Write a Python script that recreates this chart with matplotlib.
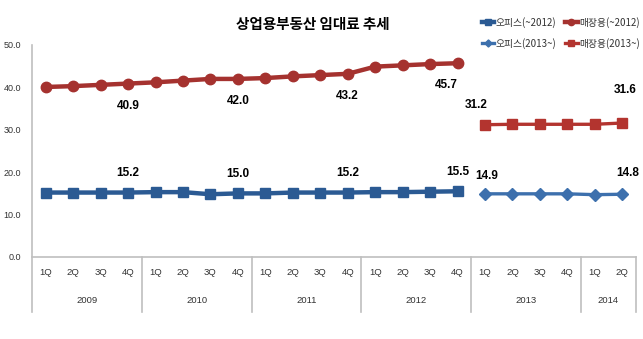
import matplotlib
matplotlib.use("Agg")
import matplotlib.pyplot as plt

plt.rcParams['font.family'] = ['Liberation Sans', 'Noto Sans CJK KR', 'DejaVu Sans']

title = '상업용부동산 임대료 추세'
years = ['2009', '2010', '2011', '2012', '2013', '2014']
year_quarters = [4, 4, 4, 4, 4, 2]
quarters = ['1Q', '2Q', '3Q', '4Q'] * 5 + ['1Q', '2Q']

# ~2012 기준 (2009 1Q ~ 2012 4Q)
office_old = [15.2, 15.2, 15.2, 15.2, 15.3, 15.3, 14.8, 15.0,
              15.0, 15.2, 15.2, 15.2, 15.3, 15.3, 15.4, 15.5]
retail_old = [40.1, 40.3, 40.6, 40.9, 41.2, 41.6, 42.0, 42.0,
              42.2, 42.6, 42.9, 43.2, 44.9, 45.2, 45.5, 45.7]
# 2013~ 기준 (2013 1Q ~ 2014 2Q)
office_new = [14.9, 14.9, 14.9, 14.9, 14.7, 14.8]
retail_new = [31.2, 31.3, 31.3, 31.3, 31.3, 31.6]

c_blue = '#2b5a93'
c_blue2 = '#3d70ad'
c_red = '#a5322f'
c_red2 = '#b3342f'

n_old = len(office_old)
x_old = list(range(n_old))
x_new = list(range(n_old, n_old + len(office_new)))

fig = plt.figure(figsize=(6.43, 3.39), dpi=100)
ax = fig.add_axes([32 / 643, 82 / 339, 604 / 643, 212 / 339])

ax.plot(x_old, office_old, color=c_blue, lw=3.2, marker='s', ms=7, label='오피스(~2012)')
ax.plot(x_old, retail_old, color=c_red, lw=3.2, marker='o', ms=7.5, label='매장용(~2012)')
ax.plot(x_new, office_new, color=c_blue2, lw=2.4, marker='D', ms=6, label='오피스(2013~)')
ax.plot(x_new, retail_new, color=c_red2, lw=2.4, marker='s', ms=7, label='매장용(2013~)')

lab_font = dict(fontsize=8.5, fontweight='bold', ha='center', va='center')

# 분기 말 값 표시
for i in [3, 7, 11, 15]:
    ax.annotate(f'{office_old[i]:.1f}', (x_old[i], office_old[i]),
                xytext=(0, 14), textcoords='offset points', **lab_font)
    dx = -8 if i == 15 else 0
    ax.annotate(f'{retail_old[i]:.1f}', (x_old[i], retail_old[i]),
                xytext=(dx, -16), textcoords='offset points', **lab_font)
for i, dx, dy_o, dy_r in [(0, 1, 13, 14), (5, 4, 15, 24)]:
    ax.annotate(f'{office_new[i]:.1f}', (x_new[i], office_new[i]),
                xytext=(dx, dy_o), textcoords='offset points', **lab_font)
    ax.annotate(f'{retail_new[i]:.1f}', (x_new[i], retail_new[i]),
                xytext=(-6 if i == 0 else 2, dy_r), textcoords='offset points', **lab_font)

ax.set_xlim(-0.5, 21.5)
ax.set_ylim(0, 50)
ax.set_yticks(range(0, 51, 10))
ax.set_yticklabels([f'{v:.1f}' for v in range(0, 51, 10)], fontsize=6.5, color='#333333')
ax.tick_params(axis='y', length=0, pad=8)
ax.set_xticks([])
for s in ['top', 'right', 'left', 'bottom']:
    ax.spines[s].set_visible(False)

grey = '#bfbfbf'
tr = ax.get_xaxis_transform()
# 축선과 연도 구분선
ax.plot([-0.5, 21.5], [0, 0], color=grey, lw=1.2, transform=tr, clip_on=False)
ax.plot([-0.5, -0.5], [-0.26, 1.0], color=grey, lw=1.2, transform=tr, clip_on=False)
pos = -0.5
for yr, nq in zip(years, year_quarters):
    ax.text(pos + nq / 2, -0.205, yr, transform=tr, ha='center', va='center',
            fontsize=6.8, color='#333333')
    pos += nq
    ax.plot([pos, pos], [-0.26, 0], color=grey, lw=1.2, transform=tr, clip_on=False)
for i, q in enumerate(quarters):
    ax.text(i, -0.075, q, transform=tr, ha='center', va='center',
            fontsize=6.8, color='#333333')

fig.text(313 / 643, 1 - 24 / 339, title, ha='center', va='center',
         fontsize=10.5, fontweight='bold', family=['Noto Sans CJK KR', 'DejaVu Sans'])

handles, labels = ax.get_legend_handles_labels()
order = [0, 2, 1, 3]
leg = fig.legend([handles[i] for i in order], [labels[i] for i in order],
                 loc='upper right', bbox_to_anchor=(640 / 643, 1 - 17 / 339), ncol=2,
                 frameon=False, handlelength=1.3, handletextpad=0.15,
                 columnspacing=0.9, labelspacing=1.0, markerscale=0.6,
                 borderpad=0, borderaxespad=0,
                 prop={'family': ['Noto Sans CJK KR', 'DejaVu Sans'], 'size': 7})
for t in leg.get_texts():
    t.set_color('#333333')

fig.savefig('out.png', dpi=100)
